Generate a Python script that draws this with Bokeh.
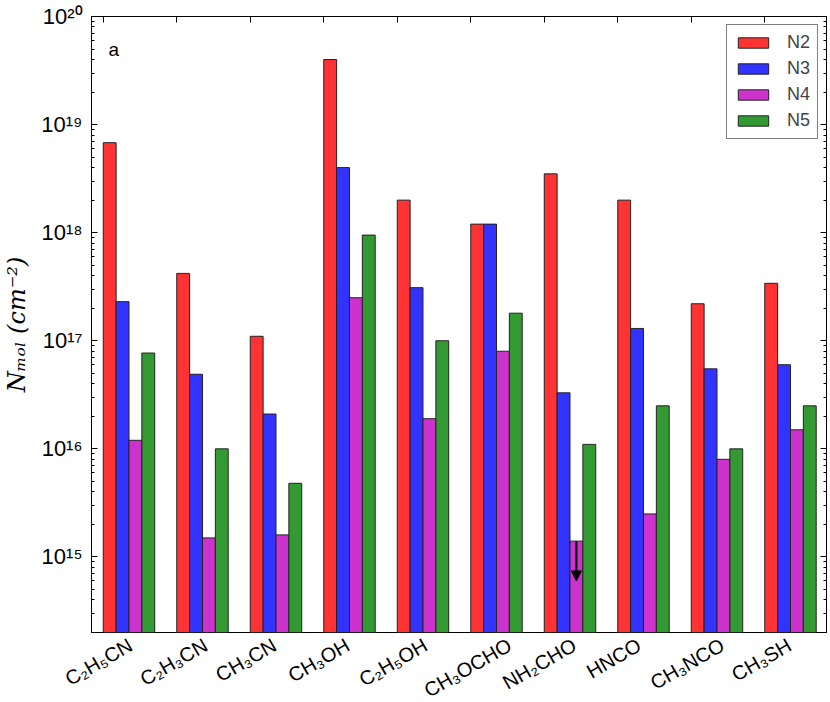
import math
from bokeh.plotting import figure
from bokeh.models import (LogAxis, LinearAxis, FixedTicker, CustomJSTickFormatter,
                          Legend, LegendItem, Label, Arrow, NormalHead, Range1d)
from bokeh.core.properties import value
from bokeh.embed import file_html
from bokeh.resources import INLINE

# ---------------- data ----------------
molecules = ["C₂H₅CN", "C₂H₃CN", "CH₃CN", "CH₃OH", "C₂H₅OH",
             "CH₃OCHO", "NH₂CHO", "HNCO", "CH₃NCO", "CH₃SH"]
series = ["N2", "N3", "N4", "N5"]
n2 = [6.8e18, 4.2e17, 1.1e17, 4.0e19, 2.0e18, 1.2e18, 3.5e18, 2.0e18, 2.2e17, 3.4e17]
n3 = [2.3e17, 4.9e16, 2.1e16, 4.0e18, 3.1e17, 1.2e18, 3.3e16, 1.3e17, 5.5e16, 6.0e16]
n4 = [1.2e16, 1.5e15, 1.6e15, 2.5e17, 1.9e16, 8.0e16, 1.4e15, 2.5e15, 8.0e15, 1.5e16]
n5 = [7.7e16, 1.0e16, 4.8e15, 9.5e17, 1.0e17, 1.8e17, 1.1e16, 2.5e16, 1.0e16, 2.5e16]
# upper limit: molecule, series, arrow tip
upper_limit_molecule = "NH₂CHO"
upper_limit_series = "N4"
upper_limit_tip = 6.0e14
y_major = [1e15, 1e16, 1e17, 1e18, 1e19, 1e20]

# ---------------- layout / style ----------------
colors = ["#ff3333", "#3333ff", "#cc33cc", "#339933"]
bar_w = 0.175
# where each rotated label's right end sits, relative to group start
label_offsets = [0.435, 0.45, 0.38, 0.37, 0.42, 0.56, 0.435, 0.31, 0.435, 0.34]

values = [n2, n3, n4, n5]
X0, X1 = -0.16, 9.84
Y0, Y1 = 2e14, 1e20
W = 830
BL, BR, BT = 86, 4, 16
FH = 616
H1 = BT + FH + 1
H2 = 702 - H1
px_per_unit = (W - BL - BR) / (X1 - X0)

p = figure(width=W, height=H1,
           x_range=Range1d(X0, X1), y_range=Range1d(Y0, Y1),
           y_axis_type="log", x_axis_location=None,
           output_backend="svg", toolbar_location=None,
           min_border_left=BL, min_border_right=BR, min_border_top=BT,
           min_border_bottom=1)
p.background_fill_color = "white"
p.border_fill_color = "white"
p.outline_line_color = "black"
p.outline_line_width = 1
p.xgrid.visible = False
p.ygrid.visible = False

xs_group = list(range(len(molecules)))
renderers = []
for k, (name, vals, col) in enumerate(zip(series, values, colors)):
    xs = [i + k * bar_w + bar_w / 2 for i in xs_group]
    r = p.vbar(x=xs, top=vals, bottom=1e12, width=bar_w,
               fill_color=col, line_color="#222222", line_width=1)
    renderers.append(r)

# ---- y axis (left) ----
sup_js = """
const sup = {"0":"⁰","1":"¹","2":"²","3":"³","4":"⁴","5":"⁵","6":"⁶","7":"⁷","8":"⁸","9":"⁹","-":"⁻"};
const e = Math.round(Math.log10(tick));
return "10" + String(e).split("").map(c => sup[c]).join("");
"""
minor = []
for e in range(14, 20):
    for m in range(2, 10):
        minor.append(m * 10.0 ** e)

yax = p.yaxis[0]
yax.ticker = FixedTicker(ticks=y_major, minor_ticks=minor)
yax.formatter = CustomJSTickFormatter(code=sup_js)
yax.major_tick_in = 6
yax.major_tick_out = 0
yax.minor_tick_in = 3
yax.minor_tick_out = 0
yax.major_label_standoff = 9
yax.major_label_text_font = "Liberation Sans"
yax.major_label_text_font_size = "22px"
yax.major_label_text_color = "black"
yax.axis_line_color = "black"
yax.axis_label = "Nₘₒₗ (cm⁻²)"
yax.axis_label_text_font = "DejaVu Serif"
yax.axis_label_text_font_style = "italic"
yax.axis_label_text_font_size = "24px"
yax.axis_label_text_color = "black"
yax.axis_label_standoff = 7

blank = CustomJSTickFormatter(code='return "";')

# ---- right axis ----
rax = LogAxis(ticker=FixedTicker(ticks=y_major, minor_ticks=minor), formatter=blank,
              major_tick_in=6, major_tick_out=0, minor_tick_in=3, minor_tick_out=0,
              major_label_text_font_size="1px", major_label_standoff=0,
              axis_line_color="black")
p.add_layout(rax, "right")

# ---- top axis: ticks at group starts ----
tax = LinearAxis(ticker=FixedTicker(ticks=xs_group), formatter=blank,
                 major_tick_in=6, major_tick_out=0, minor_tick_line_color=None,
                 major_label_text_font_size="1px", major_label_standoff=0,
                 axis_line_color="black")
p.add_layout(tax, "above")

# ---- legend ----
legend = Legend(items=[LegendItem(label=s, renderers=[r]) for s, r in zip(series, renderers)],
                location="top_right")
legend.border_line_color = "black"
legend.border_line_width = 1
legend.background_fill_color = "white"
legend.background_fill_alpha = 1
legend.label_text_font = "Liberation Sans"
legend.label_text_font_size = "18px"
legend.glyph_width = 38
legend.glyph_height = 13
legend.label_height = 20
legend.label_standoff = 15
legend.padding = 7
legend.spacing = 5
legend.margin = 8
p.add_layout(legend)

# ---- panel letter ----
p.add_layout(Label(x=0.07, y=4.0e19, text="a", text_font="Liberation Sans",
                   text_font_size="19px", text_color="black"))

# ---- upper-limit arrow ----
gi = molecules.index(upper_limit_molecule)
si = series.index(upper_limit_series)
ax_x = gi + si * bar_w + bar_w / 2
p.add_layout(Arrow(x_start=ax_x, y_start=values[si][gi], x_end=ax_x, y_end=upper_limit_tip,
                   line_width=2, line_color="black",
                   end=NormalHead(size=10, fill_color="black", line_color="black")))

# ---- category labels strip (same x scale, full-width frame), separate root ----
q = figure(width=W, height=H2,
           x_range=Range1d(X0 - BL / px_per_unit, X1 + BR / px_per_unit),
           y_range=Range1d(0, 1),
           x_axis_location=None, y_axis_location=None,
           output_backend="svg", toolbar_location=None,
           min_border_left=0, min_border_right=0, min_border_top=0, min_border_bottom=0)
q.outline_line_color = None
q.background_fill_color = "white"
q.border_fill_color = "white"
q.xgrid.visible = False
q.ygrid.visible = False
label_x = [round(i + off, 3) for i, off in zip(xs_group, label_offsets)]
q.text(x=label_x, y=[1] * len(molecules), text=molecules,
       angle=math.pi / 6, text_align="right", text_baseline="middle",
       y_offset=10, text_font=value("Liberation Sans"), text_font_size="20px",
       text_color="black")

open("out.html", "w").write(file_html([p, q], INLINE))
